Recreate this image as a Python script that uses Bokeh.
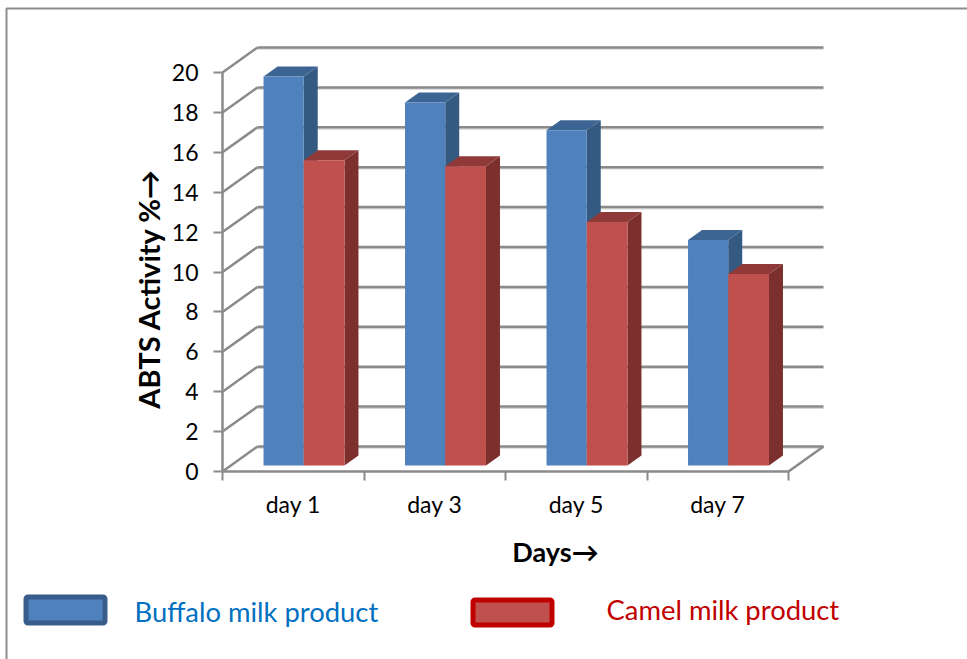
from bokeh.embed import file_html
from bokeh.models import BoxAnnotation, FixedTicker, Label
from bokeh.plotting import figure
from bokeh.resources import INLINE

days = ["day 1", "day 3", "day 5", "day 7"]
buffalo = [19.5, 18.2, 16.8, 11.3]
camel = [15.3, 15.0, 12.2, 9.6]
y_ticks = list(range(0, 21, 2))

# scales of the plot area, in pixels per data unit
PX_X = 141.5
PX_Y = 19.95
ORIGIN_X, ORIGIN_Y, W, H = 222, 471, 967, 659

# depth of the box walls and of the bars, in data units
WALL_DX, WALL_DY = 35 / PX_X, 25 / PX_Y
BAR_DX, BAR_DY = 14 / PX_X, 10 / PX_Y
BASE = 6 / PX_Y
SHADOW = 1.6 / PX_Y
OFF = [0.29, 0.574, 0.862]

FONT = "Lato"
GRID = "#8a8a8a"
GRID_SHADOW = "#d6d6d6"
CANVAS_UNITS = dict(left_units="canvas", right_units="canvas", top_units="canvas", bottom_units="canvas")

# the frame fills the page; the axes sit inside it at the data origin
p = figure(width=W, height=H, output_backend="svg", toolbar_location=None,
           x_range=(-ORIGIN_X / PX_X, (W - ORIGIN_X) / PX_X),
           y_range=((ORIGIN_Y - H) / PX_Y, ORIGIN_Y / PX_Y),
           min_border=0, outline_line_color=None)
p.xgrid.visible = False
p.ygrid.visible = False

# back wall and left wall lines, plus the floor edge
n = len(days)
p.segment(x0=[WALL_DX] * len(y_ticks), x1=[n + WALL_DX] * len(y_ticks),
          y0=[t + WALL_DY - SHADOW for t in y_ticks], y1=[t + WALL_DY - SHADOW for t in y_ticks],
          line_color=GRID_SHADOW, line_width=1.5)
p.segment(x0=[WALL_DX] * len(y_ticks), x1=[n + WALL_DX] * len(y_ticks),
          y0=[t + WALL_DY for t in y_ticks], y1=[t + WALL_DY for t in y_ticks],
          line_color=GRID, line_width=2.5)
p.segment(x0=[0] * len(y_ticks), x1=[WALL_DX] * len(y_ticks),
          y0=y_ticks, y1=[t + WALL_DY for t in y_ticks],
          line_color=GRID, line_width=2.5)
p.segment(x0=[n], x1=[n + WALL_DX], y0=[0], y1=[WALL_DY], line_color=GRID, line_width=2.5)


def draw_bars(values, x_a, x_b, front, top, side):
    left = [i + x_a for i in range(n)]
    right = [i + x_b for i in range(n)]
    up = [v + BASE for v in values]
    p.patches([[r, r, r + BAR_DX, r + BAR_DX] for r in right],
              [[BASE, u, u + BAR_DY, BASE + BAR_DY] for u in up], fill_color=side, line_color=None)
    p.patches([[l, r, r + BAR_DX, l + BAR_DX] for l, r in zip(left, right)],
              [[u, u, u + BAR_DY, u + BAR_DY] for u in up], fill_color=top, line_color=None)
    p.quad(left=left, right=right, bottom=[BASE] * n, top=up, fill_color=front, line_color=None)


# the red series goes second so each red top covers its blue neighbour's side
draw_bars(buffalo, OFF[0], OFF[1], "#4f81bd", "#3d6594", "#345a82")
draw_bars(camel, OFF[1], OFF[2], "#c0504d", "#8f3a38", "#7b302e")

yax = p.yaxis[0]
yax.fixed_location = 0
yax.ticker = FixedTicker(ticks=y_ticks)
yax.bounds = (0, 20)
yax.axis_line_color = GRID
yax.axis_line_width = 2.5
yax.major_tick_line_color = GRID
yax.major_tick_line_width = 2
yax.major_tick_in = 0
yax.major_tick_out = 9
yax.minor_tick_line_color = None
yax.major_label_standoff = 15
yax.major_label_text_font = FONT
yax.major_label_text_font_size = "23px"
yax.major_label_text_color = "#000000"

xax = p.xaxis[0]
xax.fixed_location = 0
xax.ticker = FixedTicker(ticks=[i + 0.5 for i in range(n)], minor_ticks=list(range(n + 1)))
xax.major_label_overrides = {i + 0.5: d for i, d in enumerate(days)}
xax.bounds = (0, n)
xax.axis_line_color = GRID
xax.axis_line_width = 2.5
xax.major_tick_line_color = None
xax.major_tick_in = 0
xax.major_tick_out = 9
xax.minor_tick_line_color = GRID
xax.minor_tick_line_width = 2
xax.minor_tick_in = 0
xax.minor_tick_out = 9
xax.major_label_standoff = 9
xax.major_label_text_font = FONT
xax.major_label_text_font_size = "23px"
xax.major_label_text_color = "#000000"

# axis titles
p.add_layout(Label(x=148, y=288, x_units="canvas", y_units="canvas",
                   text="ABTS Activity %→", angle=90, angle_units="deg",
                   text_font=FONT, text_font_size="29px", text_font_style="bold",
                   text_align="center", text_baseline="middle", text_color="#000000"))
p.add_layout(Label(x=555, y=551, x_units="canvas", y_units="canvas", text="Days→",
                   text_font=FONT, text_font_size="27px", text_font_style="bold",
                   text_align="center", text_baseline="middle", text_color="#000000"))

# key at the foot of the chart
p.add_layout(BoxAnnotation(left=25.5, right=104.5, top=596.5, bottom=622.5, **CANVAS_UNITS,
                           fill_color="#4f81bd", fill_alpha=1, line_color="#385d8a", line_width=5, line_alpha=1,
                           border_radius=2))
p.add_layout(BoxAnnotation(left=472.5, right=551.5, top=599.5, bottom=624.5, **CANVAS_UNITS,
                           fill_color="#c0504d", fill_alpha=1, line_color="#c00000", line_width=5, line_alpha=1,
                           border_radius=2))
p.add_layout(Label(x=134, y=610.5, x_units="canvas", y_units="canvas", text="Buffalo milk product",
                   text_font=FONT, text_font_size="27.4px", text_baseline="middle", text_color="#0070c0"))
p.add_layout(Label(x=606, y=609, x_units="canvas", y_units="canvas", text="Camel milk product",
                   text_font=FONT, text_font_size="27.4px", text_baseline="middle", text_color="#c00000"))

# chart border along the top and left edges; the other two sides run off the page
p.add_layout(BoxAnnotation(left=6, right=1100, top=8, bottom=800, **CANVAS_UNITS,
                           fill_alpha=0, fill_color=None, line_color="#8c8c8c", line_width=2, line_alpha=1))

open("out.html", "w").write(file_html(p, INLINE))
